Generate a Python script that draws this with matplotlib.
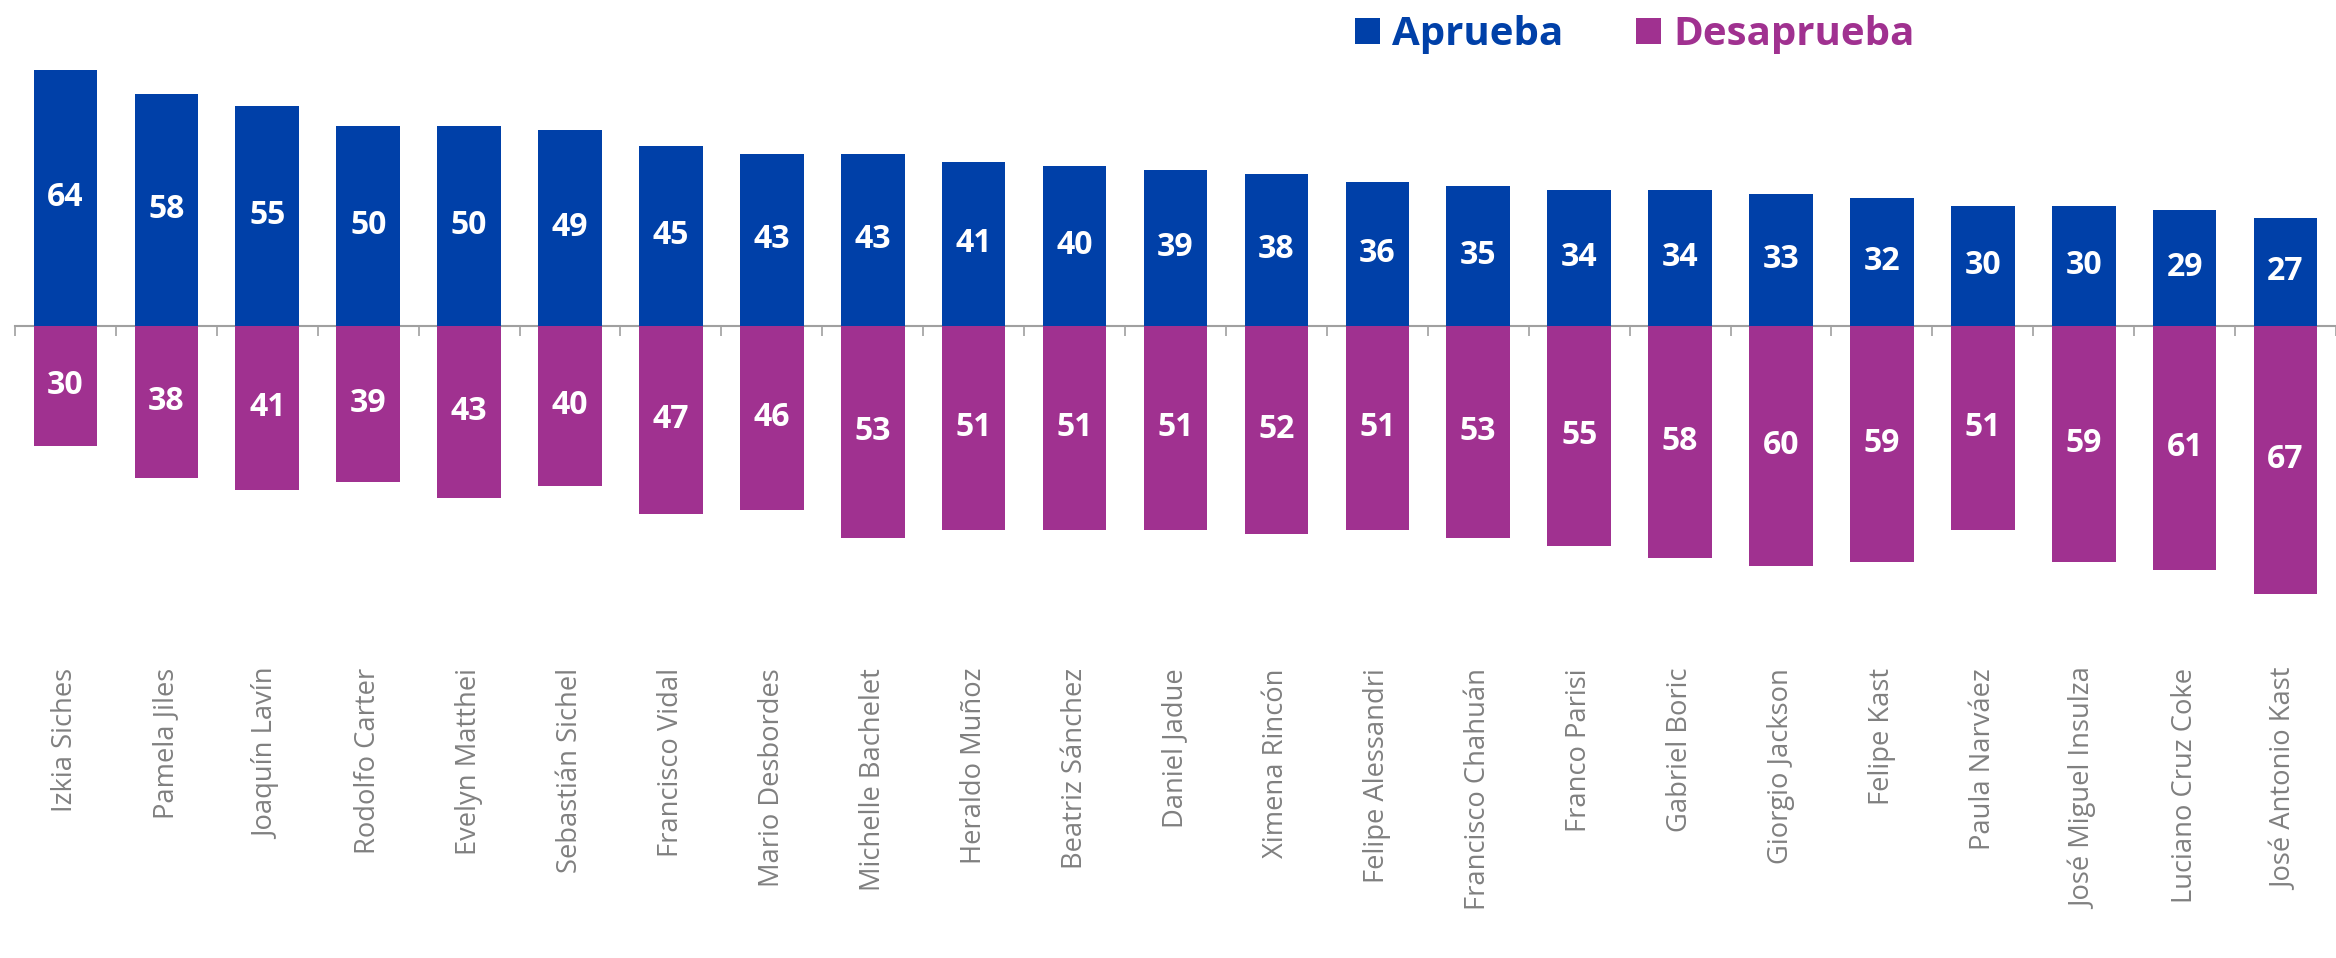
import matplotlib
matplotlib.use("Agg")
import matplotlib.pyplot as plt
import numpy as np

names = ["Izkia Siches", "Pamela Jiles", "Joaquín Lavín", "Rodolfo Carter", "Evelyn Matthei",
         "Sebastián Sichel", "Francisco Vidal", "Mario Desbordes", "Michelle Bachelet",
         "Heraldo Muñoz", "Beatriz Sánchez", "Daniel Jadue", "Ximena Rincón", "Felipe Alessandri",
         "Francisco Chahuán", "Franco Parisi", "Gabriel Boric", "Giorgio Jackson", "Felipe Kast",
         "Paula Narváez", "José Miguel Insulza", "Luciano Cruz Coke", "José Antonio Kast"]
aprueba = [64, 58, 55, 50, 50, 49, 45, 43, 43, 41, 40, 39, 38, 36, 35, 34, 34, 33, 32, 30, 30, 29, 27]
desaprueba = [30, 38, 41, 39, 43, 40, 47, 46, 53, 51, 51, 51, 52, 51, 53, 55, 58, 60, 59, 51, 59, 61, 67]

BLUE = "#0040A8"
PURPLE = "#A03190"
GRAY = "#808080"

plt.rcParams['font.family'] = ['Open Sans', 'DejaVu Sans']

W, H = 2336, 958
fig = plt.figure(figsize=(W / 100, H / 100), dpi=100)
left_px = 15
ax = fig.add_axes([left_px / W, (H - 646) / H, (W - left_px) / W, 640 / H])

x = np.arange(len(names))
b1 = ax.bar(x, aprueba, width=0.63, color=BLUE, label="Aprueba", zorder=2)
b2 = ax.bar(x, [-v for v in desaprueba], width=0.63, color=PURPLE, label="Desaprueba", zorder=2)

for xi, v in zip(x, aprueba):
    ax.text(xi, v / 2, str(v), ha="center", va="center", color="white",
            fontsize=23, fontweight="bold", zorder=3)
for xi, v in zip(x, desaprueba):
    ax.text(xi, -v / 2, str(v), ha="center", va="center", color="white",
            fontsize=23, fontweight="bold", zorder=3)

for xi, n in zip(x, names):
    ax.text(xi, -85.5, n, rotation=90, ha="center", va="top", color=GRAY,
            fontsize=19.7, clip_on=False)

ax.set_xlim(-0.5, 22.315)
ax.set_ylim(-80, 80)
for s in ["top", "right", "left"]:
    ax.spines[s].set_visible(False)
ax.spines["bottom"].set_position(("data", 0))
ax.spines["bottom"].set_color("#A0A0A0")
ax.spines["bottom"].set_linewidth(1.5)
ax.spines["bottom"].set_zorder(1)
ax.set_yticks([])
ax.set_xticks(np.arange(-0.5, len(names), 1.0))
ax.set_xticklabels([])
ax.tick_params(axis="x", length=7, width=1.2, color="#A0A0A0", direction="out")

leg = fig.legend(handles=[b1, b2], loc="upper left", bbox_to_anchor=(1339 / W, 1 + 1 / H),
                 ncol=2, frameon=False, prop={"weight": "bold", "size": 29},
                 handlelength=0.62, handleheight=0.62, handletextpad=0.3, columnspacing=1.8,
                 borderaxespad=0)
for t, c in zip(leg.get_texts(), [BLUE, PURPLE]):
    t.set_color(c)

fig.savefig("out.png", dpi=100)
